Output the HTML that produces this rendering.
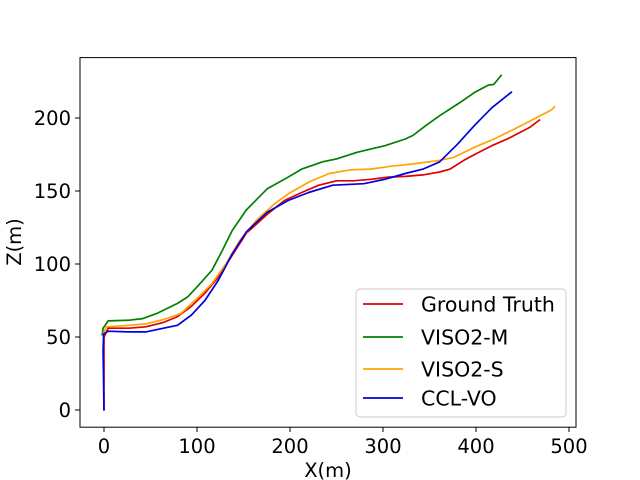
<!DOCTYPE html>
<html><head><meta charset="utf-8"><style>
body{margin:0;background:#fff;}
svg{display:block;font-family:"DejaVu Sans","Liberation Sans",sans-serif;}
</style></head><body>
<svg id="chart" width="640" height="480" viewBox="0 0 640 480" xmlns="http://www.w3.org/2000/svg">
<rect width="640" height="480" fill="#fff"/>
<g id="plot"></g>
<rect x="80" y="57.6" width="496" height="369.6" fill="none" stroke="#000" stroke-width="1"/>
<g id="xticks" font-size="19.5" text-anchor="middle"></g>
<g id="yticks" font-size="19.5" text-anchor="end"></g>
<text x="328" y="477" font-size="19.5" text-anchor="middle">X(m)</text>
<text transform="translate(21,242) rotate(-90)" font-size="19.5" text-anchor="middle">Z(m)</text>
<g>
<rect x="356" y="289" width="210" height="128" rx="4" fill="#fff" fill-opacity="0.8" stroke="#ccc"/>
<g id="legend-items" font-size="20.5"></g>
</g>
</svg>
<script>
const xTicks=[0,100,200,300,400,500];
const yTicks=[0,50,100,150,200];
const seriesNames=["Ground Truth","VISO2-M","VISO2-S","CCL-VO"];
const seriesColors=["#e00000","#008000","#ffa500","#0000e0"];
const gtX=[0,0,4.5,27,45,64,79,94,108.5,123,138,153,175.5,194,212.6,231,250,268,287,305.6,324,343,361,372,387,398.5,417,435,458,469];
const gtZ=[0,50,56,56,57,60,64,71,80,91,106,121,134,143.5,149,154,157,157,158,159.5,160,161,163,165,171,175,181,186,193.6,199];
const vmX=[-2,-1,4.5,27,41.6,56.5,79,90,101,116,127,138,153,175.5,194,212.6,235,250,272,302,324,332,346.5,361,383,398.5,413,419,423,427.5];
const vmZ=[51,56,61,61.5,62.6,66,73,77.5,85,95.7,109,123,137,151.5,158,165,170,172,176.5,181,185.6,188,195,201.6,210.7,217.5,222.5,223,226,229.6];
const vsX=[-1,2.6,27,45,64,82.5,101,116,131,146,164,183,198,220,242,265,287,309,332,361,376,398.5,421,443,466,481,485];
const vsZ=[52,57,58,59,62,66,77,86.6,100,116,130,141,148,156,162,164.5,165,167,168.5,171,173,180,186,193,200.5,205.5,208];
const ccX=[0,-1,-0.4,4.5,27,45,64,79,94,108.5,123,138,153,175.5,198,220,246,279.6,302,324,343,361,380,398.5,417,438.7];
const ccZ=[-0.5,41,52,54,53.5,53.5,56,58,65,75,89,107,122,135.5,143.5,149,154,155,158,162,165,170,182,195,207,218];
const allX=[gtX,vmX,vsX,ccX], allZ=[gtZ,vmZ,vsZ,ccZ];
const sx=v=>104+0.93*v, sy=v=>410-1.46*v;
const NS="http://www.w3.org/2000/svg";
const plot=document.getElementById('plot');
const seriesKeys=["ground-truth","viso2-m","viso2-s","ccl-vo"];
for(let s=0;s<4;s++){
  const p=document.createElementNS(NS,'polyline');
  p.setAttribute('points',allX[s].map((x,i)=>sx(x).toFixed(1)+','+sy(allZ[s][i]).toFixed(1)).join(' '));
  p.setAttribute('fill','none');p.setAttribute('stroke',seriesColors[s]);p.setAttribute('stroke-width','1.7');
  p.setAttribute('stroke-linejoin','round');
  
  
  plot.appendChild(p);
}
const xt=document.getElementById('xticks');
xTicks.forEach(t=>{
  const l=document.createElementNS(NS,'line');
  l.setAttribute('x1',sx(t));l.setAttribute('x2',sx(t));l.setAttribute('y1',427.2);l.setAttribute('y2',432);l.setAttribute('stroke','#000');
  
  
  xt.appendChild(l);
  const tx=document.createElementNS(NS,'text');
  tx.setAttribute('x',sx(t));tx.setAttribute('y',453);tx.textContent=t;
  
  
  xt.appendChild(tx);
});
const yt=document.getElementById('yticks');
yTicks.forEach(t=>{
  const l=document.createElementNS(NS,'line');
  l.setAttribute('x1',75);l.setAttribute('x2',80);l.setAttribute('y1',sy(t));l.setAttribute('y2',sy(t));l.setAttribute('stroke','#000');
  
  
  yt.appendChild(l);
  const tx=document.createElementNS(NS,'text');
  tx.setAttribute('x',71);tx.setAttribute('y',sy(t)+7);tx.textContent=t;
  
  
  yt.appendChild(tx);
});
const lg=document.getElementById('legend-items');
const rowY=[304,337,369,398];
seriesNames.forEach((n,i)=>{
  const l=document.createElementNS(NS,'line');
  l.setAttribute('x1',363);l.setAttribute('x2',403);l.setAttribute('y1',rowY[i]);l.setAttribute('y2',rowY[i]);
  l.setAttribute('stroke',seriesColors[i]);l.setAttribute('stroke-width','1.8');
  
  
  lg.appendChild(l);
  const tx=document.createElementNS(NS,'text');
  tx.setAttribute('x',421);tx.setAttribute('y',rowY[i]+7.5);tx.textContent=n;
  
  
  lg.appendChild(tx);
});
</script>
</body></html>
